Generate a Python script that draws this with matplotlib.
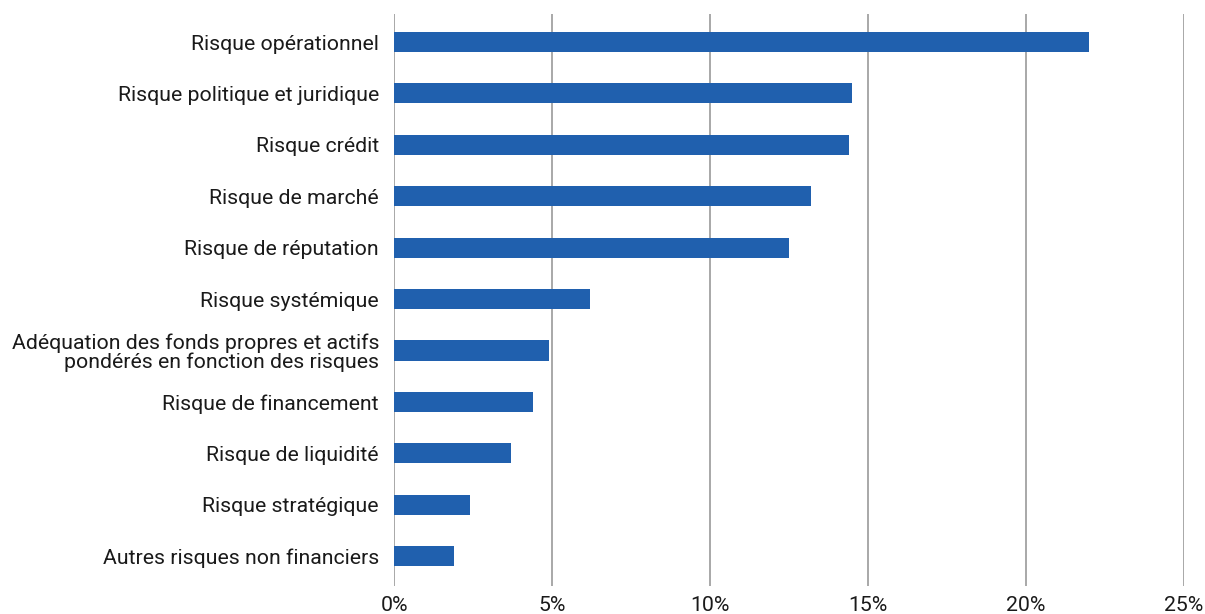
import matplotlib.pyplot as plt
from matplotlib.ticker import FuncFormatter

plt.rcParams["font.family"] = ["Roboto", "DejaVu Sans"]

categories = [
    "Risque opérationnel",
    "Risque politique et juridique",
    "Risque crédit",
    "Risque de marché",
    "Risque de réputation",
    "Risque systémique",
    "Adéquation des fonds propres et actifs\npondérés en fonction des risques",
    "Risque de financement",
    "Risque de liquidité",
    "Risque stratégique",
    "Autres risques non financiers",
]
shares = [22.0, 14.5, 14.4, 13.2, 12.5, 6.2, 4.9, 4.4, 3.7, 2.4, 1.9]
xticks = [0, 5, 10, 15, 20, 25]

fig = plt.figure(figsize=(12.05, 6.14), dpi=100)
ax = fig.add_axes([394 / 1205, 28 / 614, 790 / 1205, 572 / 614])

ypos = list(range(len(categories)))
ax.barh(ypos, shares, height=0.39, color="#2060ae", zorder=3)
ax.set_yticks(ypos)
ax.set_yticklabels(categories, fontsize=15.3, color="#1a1a1a", linespacing=1.0)
ax.set_ylim(len(categories) - 0.42, -0.545)

ax.set_xlim(0, 25)
ax.set_xticks(xticks)
ax.xaxis.set_major_formatter(FuncFormatter(lambda v, _: f"{v:.0f}%"))
ax.tick_params(axis="x", labelsize=15.3, length=0, pad=7, colors="#1a1a1a")
ax.tick_params(axis="y", length=0, pad=10.8)
ax.grid(axis="x", color="#999999", linewidth=1.2, zorder=0)
for side in ax.spines.values():
    side.set_visible(False)

fig.savefig("out.png", dpi=100)
